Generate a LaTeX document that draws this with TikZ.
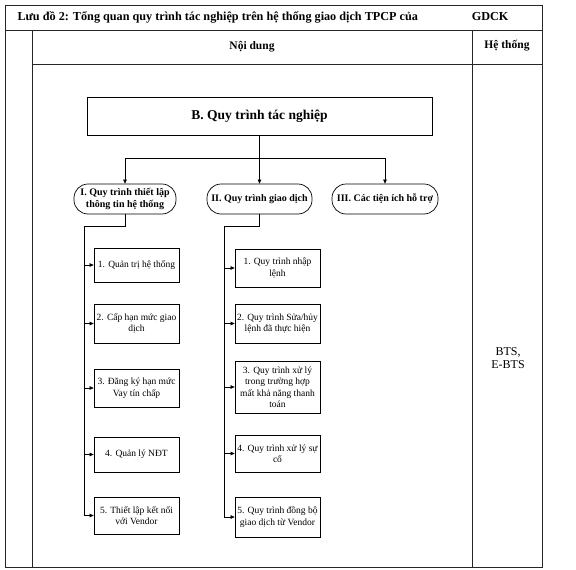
\documentclass[tikz,border=0pt]{standalone}
\usepackage{fontspec}
\setmainfont{Liberation Serif}
\usetikzlibrary{arrows.meta}
\begin{document}
\begin{tikzpicture}[x=1pt,y=-1pt,
  gridline/.style={line width=0.9pt, draw=black!85},
  bbox/.style={draw, line width=0.7pt, align=center, inner sep=1pt,
    font=\fontsize{9.5}{11.5}\selectfont, minimum width=85pt},
  lvl/.style={draw, line width=0.7pt, rounded corners=14pt, align=center, inner sep=1pt,
    font=\bfseries\fontsize{10}{12}\selectfont, minimum height=30pt},
  arr/.style={-{Triangle[length=4pt,width=3.5pt]}, line width=0.6pt},
  ln/.style={line width=0.6pt}]
\useasboundingbox (0,0) rectangle (576,570);
% table
\draw[gridline] (5,5) rectangle (542,567);
\draw[gridline] (5,30) -- (542,30);
\draw[gridline] (32,30) -- (32,567);
\draw[gridline] (472,30) -- (472,567);
\draw[gridline] (32,64) -- (542,64);
\node[anchor=west, font=\bfseries\fontsize{12.2}{14}\selectfont] (title) at (14,17)
  {Lưu đồ 2: Tổng quan quy trình tác nghiệp trên hệ thống giao dịch TPCP của};
\node[anchor=east, font=\bfseries\fontsize{12.2}{14}\selectfont] (gdck) at (512,17) {GDCK};
\node[font=\bfseries\fontsize{11.5}{13}\selectfont] (hnd) at (252,47) {Nội dung};
\node[font=\bfseries\fontsize{11.5}{13}\selectfont] (hht) at (507,46) {Hệ thống};
\node[align=center, font=\fontsize{12}{13}\selectfont] (bts) at (508,358) {BTS,\\E-BTS};
% main box
\node[draw, line width=0.7pt, minimum width=345pt, minimum height=38pt,
  font=\bfseries\fontsize{13.5}{15}\selectfont] (B) at (259.5,116) {B. Quy trình tác nghiệp};
\node[lvl, minimum width=102pt] (I) at (125,199) {I. Quy trình thiết lập\\thông tin hệ thống};
\node[lvl, minimum width=105pt] (II) at (259.5,199) {II. Quy trình giao dịch};
\node[lvl, minimum width=106pt] (III) at (385,199) {III. Các tiện ích hỗ trợ};
\coordinate (j) at (259.5,158);
\draw[ln] (B) -- (j);
\draw[arr] (j) -| (I.north);
\draw[arr] (j) -- (II.north);
\draw[arr] (j) -| (III.north);
% children I
\node[bbox, minimum height=34pt] (c11) at (136.5,265) {1. Quản trị hệ thống};
\node[bbox, minimum height=39pt] (c12) at (136.5,323.5) {2. Cấp hạn mức giao\\dịch};
\node[bbox, minimum height=38pt] (c13) at (136.5,388) {3. Đăng ký hạn mức\\Vay tín chấp};
\node[bbox, minimum height=35pt] (c14) at (136.5,454.5) {4. Quản lý NĐT};
\node[bbox, minimum height=37pt] (c15) at (136.5,515.5) {5. Thiết lập kết nối\\với Vendor};
\coordinate (s1) at (84,226);
\draw[ln] (I.south) |- (s1) -- (s1 |- c15);
\foreach \c in {c11,c12,c13,c14,c15}{\draw[arr] (s1 |- \c) -- (\c.west);}
% children II
\node[bbox, minimum height=38pt] (c21) at (277.5,268) {1. Quy trình nhập\\lệnh};
\node[bbox, minimum height=39pt] (c22) at (277.5,323.5) {2. Quy trình Sửa/hủy\\lệnh đã thực hiện};
\node[bbox, minimum height=52pt] (c23) at (277.5,387) {3. Quy trình xử lý\\trong trường hợp\\mất khả năng thanh\\toán};
\node[bbox, minimum height=37pt] (c24) at (277.5,453.5) {4. Quy trình xử lý sự\\cố};
\node[bbox, minimum height=40pt] (c25) at (277.5,517) {5. Quy trình đồng bộ\\giao dịch từ Vendor};
\coordinate (s2) at (224,226);
\draw[ln] (II.south) |- (s2) -- (s2 |- c25);
\foreach \c in {c21,c22,c23,c24,c25}{\draw[arr] (s2 |- \c) -- (\c.west);}
\end{tikzpicture}
\end{document}
